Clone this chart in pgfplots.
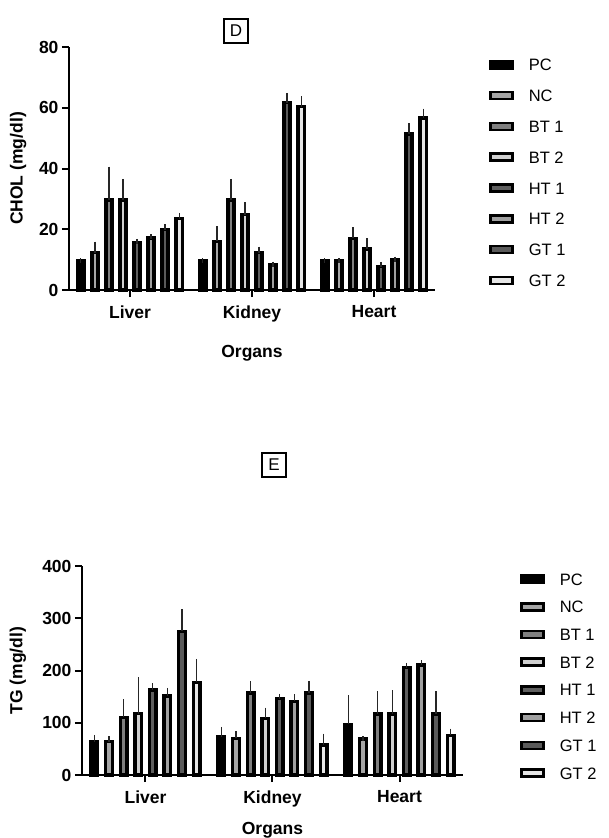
\documentclass[border=0pt]{standalone}
\usepackage{fontspec}
\setmainfont{Liberation Sans}
\usepackage{pgfplots}
\pgfplotsset{compat=1.18}

\definecolor{cPC}{HTML}{000000}
\definecolor{cNC}{HTML}{A6A6A6}
\definecolor{cBTa}{HTML}{7F7F7F}
\definecolor{cBTb}{HTML}{D0D0D0}
\definecolor{cHTa}{HTML}{5F5F5F}
\definecolor{cHTb}{HTML}{A0A0A0}
\definecolor{cGTa}{HTML}{5A5A5A}
\definecolor{cGTb}{HTML}{E6E6E6}

\pgfplotsset{
  organ/.style={scale only axis, ybar, clip=false,
    xmin=-0.5, xmax=2.5, ymin=0,
    axis x line=bottom, axis y line=left,
    axis line style={-, line width=2pt},
    tick align=outside, major tick length=7pt,
    tick style={line width=2pt, black},
    xtick={0,1,2}, xticklabels={Liver,Kidney,Heart},
    /pgf/number format/assume math mode=true,
    bar width=0.052,
    tick label style={font=\bfseries\fontsize{17.5}{20}\selectfont},
    xticklabel style={yshift=-5pt},
    label style={font=\bfseries\fontsize{17.5}{20}\selectfont},
    xlabel={Organs},
    legend cell align=left,
    legend style={draw=none, fill=none, inner sep=0pt,
      font=\fontsize{16.5}{18}\selectfont,
      nodes={inner sep=0pt, text height=12pt, text depth=0pt},
      /tikz/every odd column/.append style={column sep=15pt}},
    every axis plot/.append style={draw=black, line width=3.5pt,
      legend image code/.code={\draw[##1, line width=2.6pt] (0pt,-3.5pt) rectangle (22pt,3.5pt);},
      error bars/y dir=plus, error bars/y explicit,
      error bars/error mark=-,
      error bars/error bar style={line width=1.2pt, black!85},
      error bars/error mark options={mark size=2.5pt, line width=1.2pt, black!85}},
  },
}

\begin{document}
\begin{tikzpicture}
\path[use as bounding box] (0pt,0pt) rectangle (608pt,-838pt);

% panel D
\begin{axis}[organ, at={(69pt,-290pt)}, anchor=south west,
  width=366pt, height=243pt, ymax=80, ytick={0,20,40,60,80},
  ylabel={CHOL (mg/dl)},
  ylabel style={at={(axis description cs:-0.139,0.5)}, anchor=center},
  xlabel style={at={(axis description cs:0.5,-0.259)}, anchor=center},
  legend style={at={(1.1475,0.952)}, anchor=north west, row sep=18.8pt}]
\addplot[fill=cPC, bar shift=-0.4025] coordinates {(0,9.6) +- (0,0) (1,9.6) +- (0,0) (2,9.6) +- (0,0)};
\addplot[fill=cNC, bar shift=-0.2875] coordinates {(0,12.3) +- (0,2.8) (1,16.0) +- (0,4.2) (2,9.6) +- (0,0)};
\addplot[fill=cBTa, bar shift=-0.1725] coordinates {(0,29.6) +- (0,10.2) (1,29.6) +- (0,6.2) (2,17.0) +- (0,2.8)};
\addplot[fill=cBTb, bar shift=-0.0575] coordinates {(0,29.6) +- (0,6.2) (1,24.8) +- (0,3.2) (2,13.5) +- (0,2.7)};
\addplot[fill=cHTa, bar shift=0.0575] coordinates {(0,15.6) +- (0,0.4) (1,12.3) +- (0,1.2) (2,7.8) +- (0,0.6)};
\addplot[fill=cHTb, bar shift=0.1725] coordinates {(0,17.2) +- (0,0.3) (1,8.3) +- (0,0.2) (2,9.9) +- (0,0.3)};
\addplot[fill=cGTa, bar shift=0.2875] coordinates {(0,19.9) +- (0,0.9) (1,61.7) +- (0,2.4) (2,51.4) +- (0,2.7)};
\addplot[fill=cGTb, bar shift=0.4025] coordinates {(0,23.5) +- (0,1.1) (1,60.4) +- (0,2.5) (2,56.6) +- (0,2.3)};
\legend{PC,NC,BT 1,BT 2,HT 1,HT 2,GT 1,GT 2}
\end{axis}

% panel E
\begin{axis}[organ, at={(82pt,-775pt)}, anchor=south west,
  width=381pt, height=209pt, ymax=400, ytick={0,100,200,300,400},
  ylabel={TG (mg/dl)},
  ylabel style={at={(axis description cs:-0.168,0.5)}, anchor=center},
  xlabel style={at={(axis description cs:0.5,-0.263)}, anchor=center},
  legend style={at={(1.1496,0.967)}, anchor=north west, row sep=15.7pt}]
\addplot[fill=cPC, bar shift=-0.4025] coordinates {(0,63.7) +- (0,8.3) (1,73.4) +- (0,14.0) (2,97.0) +- (0,51.0)};
\addplot[fill=cNC, bar shift=-0.2875] coordinates {(0,63.7) +- (0,5.8) (1,70.1) +- (0,8.9) (2,69.0) +- (0,0)};
\addplot[fill=cBTa, bar shift=-0.1725] coordinates {(0,110.4) +- (0,29.6) (1,157.0) +- (0,18.0) (2,116.4) +- (0,39.6)};
\addplot[fill=cBTb, bar shift=-0.0575] coordinates {(0,117.4) +- (0,64.6) (1,108.4) +- (0,15.6) (2,116.4) +- (0,41.2)};
\addplot[fill=cHTa, bar shift=0.0575] coordinates {(0,162.4) +- (0,8.6) (1,146.0) +- (0,4.5) (2,206.0) +- (0,4.0)};
\addplot[fill=cHTb, bar shift=0.1725] coordinates {(0,151.4) +- (0,10.6) (1,141.0) +- (0,9.0) (2,211.0) +- (0,3.4)};
\addplot[fill=cGTa, bar shift=0.2875] coordinates {(0,275.0) +- (0,37.6) (1,157.0) +- (0,18.4) (2,116.4) +- (0,39.6)};
\addplot[fill=cGTb, bar shift=0.4025] coordinates {(0,177.4) +- (0,40.1) (1,57.4) +- (0,17.2) (2,76.0) +- (0,8.0)};
\legend{PC,NC,BT 1,BT 2,HT 1,HT 2,GT 1,GT 2}
\end{axis}

\node[draw, line width=1.2pt, minimum width=24pt, minimum height=24pt, inner sep=0pt,
  font=\fontsize{17}{19}\selectfont] at (236pt,-31pt) {D};
\node[draw, line width=1.2pt, minimum width=24pt, minimum height=24pt, inner sep=0pt,
  font=\fontsize{17}{19}\selectfont] at (274pt,-465pt) {E};
\end{tikzpicture}
\end{document}
